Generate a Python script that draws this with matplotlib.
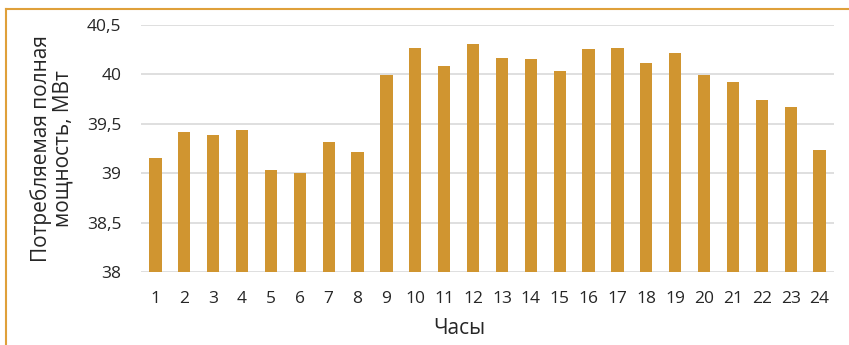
import numpy as np
import matplotlib
matplotlib.use("Agg")
import matplotlib.pyplot as plt
from matplotlib.lines import Line2D

hours = [str(h) for h in range(1, 25)]
power = [39.15, 39.42, 39.39, 39.44, 39.03, 39.00, 39.32, 39.21,
         39.99, 40.27, 40.09, 40.31, 40.17, 40.16, 40.03, 40.26,
         40.27, 40.12, 40.22, 39.99, 39.92, 39.74, 39.67, 39.23]
y_ticks = [38, 38.5, 39, 39.5, 40, 40.5]
y_tick_labels = ["38", "38,5", "39", "39,5", "40", "40,5"]

plt.rcParams['font.family'] = ['Open Sans', 'DejaVu Sans']

fig = plt.figure(figsize=(8.49, 3.45), dpi=100)
ax = fig.add_axes([141 / 849, 1 - 272 / 345, (834 - 141) / 849, (272 - 25) / 345])

x = np.arange(len(hours))
ax.bar(x, np.array(power) - 38, bottom=38, width=0.42, color='#D09530', zorder=3)

ax.set_xlim(-0.5, len(hours) - 0.5)
ax.set_ylim(38, 40.5)
ax.set_yticks(y_ticks)
ax.set_yticklabels(y_tick_labels)
ax.set_xticks(x)
ax.set_xticklabels(hours)
ax.grid(axis='y', color='#D9D9D9', linewidth=1.2, zorder=0)
ax.tick_params(length=0, labelsize=12.5, colors='#262626', pad=14)
ax.tick_params(axis='y', pad=14)
for s in ax.spines.values():
    s.set_visible(False)

ax.set_ylabel("Потребляемая полная\nмощность, МВт", fontsize=15, color='#262626',
              labelpad=10, linespacing=1.0)
ax.set_xlabel("Часы", fontsize=15, color='#262626')
ax.xaxis.set_label_coords(0.46, -0.185)

# orange chart frame (only top and left edges visible)
fig.add_artist(Line2D([6 / 849, 6 / 849], [0, 1 - 8.5 / 345], transform=fig.transFigure,
                      color='#DFA03A', linewidth=1.5))
fig.add_artist(Line2D([6 / 849, 1], [1 - 8.5 / 345, 1 - 8.5 / 345], transform=fig.transFigure,
                      color='#DFA03A', linewidth=1.5))

fig.savefig("out.png", dpi=100)
